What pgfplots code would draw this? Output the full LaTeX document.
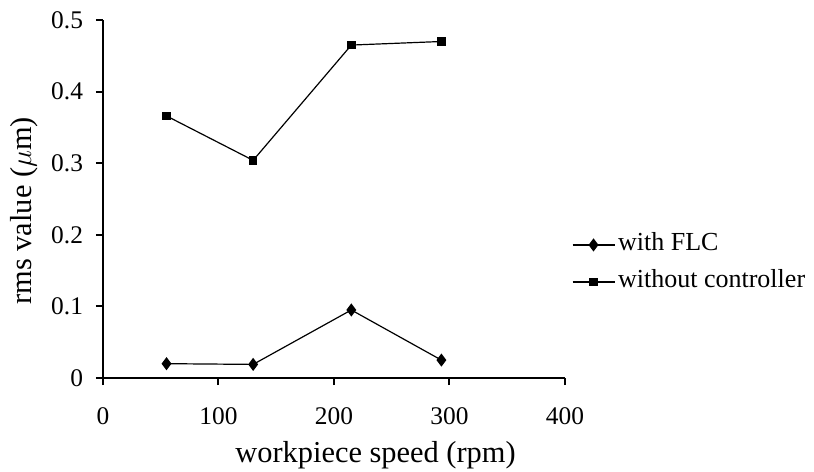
\documentclass[border=0pt]{standalone}
\usepackage{fontspec}
\setmainfont{Liberation Serif}
\usepackage{pgfplots}
\pgfplotsset{compat=1.18}
\begin{document}
\begin{tikzpicture}
\path[use as bounding box] (-51.5bp,-47bp) rectangle (355.5bp,189bp);
\begin{axis}[
  scale only axis,
  width=231bp, height=179bp,
  at={(0,0)}, anchor=origin,
  xmin=0, xmax=400, ymin=0, ymax=0.5,
  xtick={0,100,200,300,400},
  ytick={0,0.1,0.2,0.3,0.4,0.5},
  axis x line*=bottom, axis y line*=left,
  axis line style={line width=1bp, -},
  tick align=outside, tick style={line width=1bp, black},
  major tick length=3.5bp,
  /pgf/number format/assume math mode=true,
  /pgf/number format/fixed,
  /pgf/number format/precision=1,
  ticklabel style={font=\fontsize{12.7bp}{14bp}\selectfont},
  xticklabel style={yshift=-8bp},
  yticklabel style={xshift=-3bp},
  xlabel={workpiece speed (rpm)},
  ylabel={rms value ($\mu$m)},
  xlabel style={font=\fontsize{15.2bp}{18bp}\selectfont, at={(axis description cs:0.59,-0.215)}, anchor=center},
  ylabel style={font=\fontsize{15.2bp}{18bp}\selectfont, at={(ticklabel cs:0.467)}},
  legend image code/.code={\draw[mark repeat=2, mark phase=2] plot coordinates {(0bp,0bp)(10.5bp,0bp)(21bp,0bp)};},
  legend style={draw=none, at={(axis description cs:1.015,0.32)}, anchor=west,
    inner sep=0pt, outer sep=0pt,
    nodes={inner sep=1.5bp, text height=9bp, text depth=3bp},
    font=\fontsize{13bp}{16bp}\selectfont, row sep=3.5bp, fill=none},
  legend cell align=left,
  clip=false,
]
\addplot[black, line width=0.6bp, mark=diamond*, mark size=2.8bp, mark options={solid}]
  coordinates {(55,0.020) (130,0.019) (215,0.095) (293,0.025)};
\addlegendentry{with FLC}
\addplot[black, line width=0.6bp, mark=square*, mark size=1.8bp, mark options={solid}]
  coordinates {(55,0.366) (130,0.304) (215,0.465) (293,0.470)};
\addlegendentry{without controller}
\end{axis}
\end{tikzpicture}
\end{document}
